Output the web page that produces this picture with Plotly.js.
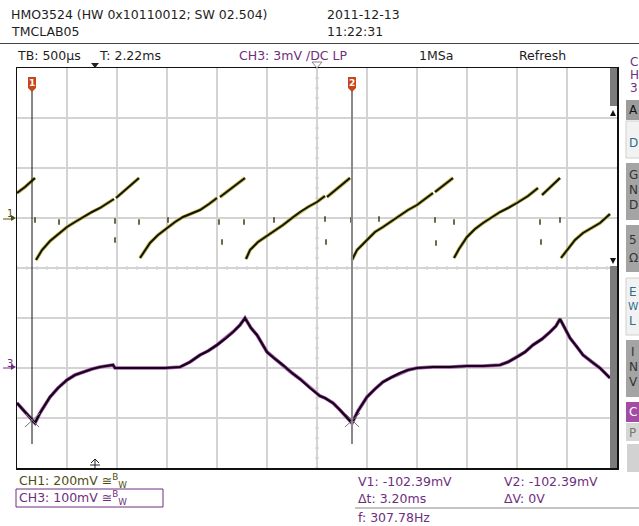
<!DOCTYPE html>
<html>
<head>
<meta charset="utf-8">
<script src="https://cdn.plot.ly/plotly-3.0.1.min.js"></script>
<style>
html,body{margin:0;padding:0;background:#fff;overflow:hidden;}
#chart{width:639px;height:526px;}
</style>
</head>
<body>
<div id="chart"></div>
<script>
// ---- Data (time in ms from left screen edge, 500 µs/div) ----
// CH1: 200 mV/div (sawtooth segments, null = retrace gap)
const ch1Time = [0.00,0.08,0.18,null,
  0.19,0.25,0.33,0.41,0.50,0.58,0.66,0.75,0.83,0.91,0.97,null,
  0.99,1.10,1.22,null,
  1.23,1.28,1.33,1.41,1.50,1.58,1.66,1.75,1.83,1.92,2.00,null,
  2.03,2.15,2.28,null,
  2.29,2.33,2.41,2.50,2.58,2.66,2.75,2.83,2.91,3.00,3.08,null,
  3.10,3.21,3.33,null,
  3.35,3.40,3.50,3.58,3.66,3.75,3.83,3.91,4.00,4.08,4.16,null,
  4.18,4.27,4.36,null,
  4.37,4.42,4.50,4.58,4.66,4.75,4.83,4.91,5.00,5.11,5.21,null,
  5.25,5.34,5.43,null,
  5.44,5.50,5.58,5.66,5.75,5.83,5.93];
const ch1mV = [100,124,160,null,
  -168,-128,-92,-64,-36,-16,4,24,40,60,76,null,
  80,120,160,null,
  -160,-128,-100,-68,-40,-16,4,20,32,56,80,null,
  84,120,160,null,
  -164,-128,-96,-72,-52,-28,0,24,44,64,88,null,
  84,120,160,null,
  -168,-128,-88,-56,-36,-12,12,32,52,76,100,null,
  104,132,160,null,
  -160,-124,-76,-44,-20,4,24,40,60,88,120,null,
  92,124,160,null,
  -160,-128,-88,-60,-40,-20,16];
// CH1 glitch dots
const glitchTime = [0.18,0.42,0.98,0.98,1.22,1.51,2.02,2.05,2.27,2.57,3.08,3.09,3.34,3.62,4.18,4.19,4.37,5.23,5.24,5.43];
const glitchmV   = [-8,-16,-12,-88,-16,-8,-16,-96,-16,-8,-4,-96,-8,-4,-8,-100,-16,-16,-96,-8];
// CH3: 100 mV/div
const ch3Time = [0.00,0.08,0.18,0.23,0.33,0.41,0.50,0.58,0.66,0.75,0.83,0.96,0.98,1.13,1.33,1.48,1.63,1.73,1.83,1.91,
  2.00,2.08,2.16,2.23,2.28,2.34,2.40,2.50,2.58,2.66,2.75,2.83,2.93,3.03,3.08,3.16,3.23,3.29,3.35,3.41,
  3.50,3.58,3.66,3.75,3.83,3.91,4.00,4.16,4.33,4.50,4.66,4.83,4.91,5.00,5.08,5.16,5.25,5.33,5.39,5.43,
  5.48,5.53,5.60,5.66,5.75,5.83,5.93];
const ch3mV = [-70,-88,-110,-90,-58,-40,-24,-14,-8,-2,2,6,0,0,0,0,2,12,26,34,
  46,58,72,86,100,80,66,32,18,6,-10,-22,-40,-56,-60,-70,-84,-98,-110,-86,
  -58,-42,-28,-18,-10,-4,0,2,2,4,4,6,12,22,32,46,58,72,84,98,
  80,60,42,26,12,0,-20];
// Cursors (ms)
const cursorTimes = [0.15, 3.35];
const cursorLabels = ["1", "2"];
// Header / status texts
const headerTexts = ["HMO3524 (HW 0x10110012; SW 02.504)", "TMCLAB05", "2011-12-13", "11:22:31"];
const statusTexts = ["TB: 500µs", "T: 2.22ms", "CH3: 3mV ∕DC LP", "1MSa", "Refresh"];
const chLabels = ["CH1: 200mV ≅<sup>B</sup><sub>W</sub>", "CH3: 100mV ≅<sup>B</sup><sub>W</sub>"];
const measTexts = ["V1: -102.39mV", "V2: -102.39mV", "Δt: 3.20ms", "ΔV: 0V", "f: 307.78Hz"];

// ---- helpers for pixel-placed decorations ----
const P = px => (px - 17) / 600;
const Q = py => (468 - py) / 400;
const FONT = "DejaVu Sans";
const PURPLE = "#6e2f7e", OLIVE = "#4e4e14", DARK = "#1e1e1e";

const traces = [
  {x: ch1Time, y: ch1mV, mode: "lines", line: {color: "#c4bd5a", width: 3.6}, connectgaps: false, hoverinfo: "skip", yaxis: "y"},
  {x: ch1Time, y: ch1mV, mode: "lines", line: {color: "#151505", width: 2}, connectgaps: false, hoverinfo: "skip", yaxis: "y"},
  {x: glitchTime, y: glitchmV, mode: "markers", marker: {symbol: "line-ns-open", size: 4, color: "#3a3a10", line: {color: "#3a3a10", width: 1.5}}, hoverinfo: "skip", yaxis: "y"},
  {x: ch3Time, y: ch3mV, mode: "lines", line: {color: "#a65ab0", width: 3.6}, hoverinfo: "skip", yaxis: "y2"},
  {x: ch3Time, y: ch3mV, mode: "lines", line: {color: "#150515", width: 2.2}, hoverinfo: "skip", yaxis: "y2"}
];

const shapes = [];
const annotations = [];
function txt(text, px, py, color, size, extra) {
  annotations.push(Object.assign({text: text, xref: "paper", yref: "paper", x: P(px), y: Q(py),
    xanchor: "left", yanchor: "middle", showarrow: false,
    font: {family: FONT, size: size || 12, color: color || DARK}}, extra || {}));
}
function rect(x0, y0, x1, y1, fill, line) {
  shapes.push({type: "rect", xref: "paper", yref: "paper", x0: P(x0), x1: P(x1), y0: Q(y1), y1: Q(y0),
    fillcolor: fill, line: line || {width: 0}, layer: "above"});
}
function seg(x0, y0, x1, y1, color, w) {
  shapes.push({type: "line", xref: "paper", yref: "paper", x0: P(x0), x1: P(x1), y0: Q(y0), y1: Q(y1),
    line: {color: color, width: w || 1}, layer: "above"});
}
function path(d, fill, line) {
  shapes.push({type: "path", xref: "paper", yref: "paper", path: d, fillcolor: fill || "rgba(0,0,0,0)",
    line: line || {width: 0}, layer: "above"});
}
function pth(points, close) {
  return points.map((p, i) => (i ? "L" : "M") + P(p[0]).toFixed(5) + "," + Q(p[1]).toFixed(5)).join(" ") + (close ? " Z" : "");
}

// minor ticks on the centre lines
for (let k = 0; k <= 60; k++) {
  const t = k * 0.1;
  shapes.push({type: "line", xref: "x", yref: "y", x0: t, x1: t, y0: -208, y1: -192, line: {color: "#c8c8c8", width: 1}, layer: "below"});
}
for (let k = 0; k <= 40; k++) {
  const v = -1000 + k * 40;
  shapes.push({type: "line", xref: "x", yref: "y", x0: 2.98, x1: 3.02, y0: v, y1: v, line: {color: "#c8c8c8", width: 1}, layer: "below"});
}

// header
seg(0, 43.5, 639, 43.5, "#444", 1);
txt(headerTexts[0], 9, 15, DARK, 12.5);
txt(headerTexts[1], 9, 32, DARK, 12.5);
txt(headerTexts[2], 325, 15, DARK, 12.5);
txt(headerTexts[3], 325, 32, DARK, 12.5);
txt(statusTexts[0], 15, 55, DARK, 12.5);
txt(statusTexts[1], 97, 55, DARK, 12.5);
txt(statusTexts[2], 237, 55, PURPLE, 12.5);
txt(statusTexts[3], 417, 55, DARK, 12.5);
txt(statusTexts[4], 517, 55, DARK, 12.5);
txt("C", 628, 62, PURPLE);
txt("H", 628, 75, PURPLE);
txt("3", 628, 88, PURPLE);

// top triangle markers
path(pth([[91,63],[99,63],[95,68]], true), "#222");
path(pth([[312,62],[322,62],[317,68]], true), "#fff", {color: "#888", width: 1});

// scrollbar at right of screen
rect(610, 68, 617, 106, "#7c7c7c");
rect(610, 266, 617, 468, "#7c7c7c");
path(pth([[610,116],[616,116],[613,110]], true), "#111");
path(pth([[610,258],[616,258],[613,264]], true), "#111");

// right menu buttons (cut off by the screen edge)
rect(626, 100, 645, 120, "#9c9c9c");
txt("A", 627, 110, "#111");
rect(626, 121, 645, 158, "#f2f2f2", {color: "#d0d0d0", width: 1});
txt("D", 627, 143, "#2e6d8c");
rect(626, 163, 645, 220, "#a4a4a4");
txt("G", 627, 175, "#333"); txt("N", 627, 190, "#333"); txt("D", 627, 205, "#333");
rect(626, 225, 645, 272, "#a4a4a4");
txt("5", 627, 240, "#333"); txt("Ω", 627, 258, "#333");
rect(626, 278, 645, 335, "#f2f2f2", {color: "#d0d0d0", width: 1});
txt("E", 627, 292, "#2e6d8c"); txt("W", 626, 306, "#2e6d8c", 10.5); txt("L", 627, 321, "#2e6d8c");
rect(626, 340, 645, 397, "#a4a4a4");
txt("I", 629, 352, "#333"); txt("N", 627, 367, "#333"); txt("V", 627, 382, "#333");
rect(626, 402, 645, 422, "#a24ca6");
txt("C", 627, 412, "#fff");
rect(626, 423, 645, 441, "#d6d6d6");
txt("P", 627, 433, "#777");
rect(627, 444, 645, 472, "#d2d2d2");

// channel ground markers
txt("1", 5, 213, OLIVE, 10);
path(pth([[11,215],[16,218],[11,221]], true), OLIVE);
seg(3, 219, 12, 219, OLIVE, 1);
txt("3", 5, 363, PURPLE, 10);
path(pth([[11,364],[16,367],[11,370]], true), PURPLE);
seg(3, 368, 12, 368, PURPLE, 1);

// trigger level marker at bottom
path(pth([[91,463],[95,459],[99,463]]), null, {color: "#222", width: 1});
seg(90, 465, 100, 465, "#222", 1);
seg(95, 459, 95, 468, "#222", 1);

// cursors
const cursorColors = ["#111", "#8a8a8a"];
cursorTimes.forEach((t, i) => {
  shapes.push({type: "line", xref: "x", yref: "paper", x0: t, x1: t, y0: Q(444), y1: Q(88),
    line: {color: cursorColors[i], width: i ? 2 : 1}, layer: "above"});
  const cx = 17 + t * 100;
  path(pth([[cx-4,77],[cx+4,77],[cx+4,88],[cx,92],[cx-4,88]], true), "#c9461b");
  annotations.push({text: "<b>" + cursorLabels[i] + "</b>", xref: "x", yref: "paper", x: t, y: Q(83),
    xanchor: "center", yanchor: "middle", showarrow: false, font: {family: FONT, size: 9, color: "#fff"}});
  seg(cx-7, 427, cx+8, 413, "#777", 1);
  seg(cx-6, 414, cx+7, 427, "#777", 1);
});

// bottom status
txt(chLabels[0], 17, 481, OLIVE, 12.5);
rect(16, 489, 163, 507, "rgba(0,0,0,0)", {color: PURPLE, width: 1});
txt(chLabels[1], 17, 498, PURPLE, 12.5);
txt(measTexts[0], 356, 481, PURPLE, 12.5);
txt(measTexts[1], 502, 481, PURPLE, 12.5);
txt(measTexts[2], 356, 498, PURPLE, 12.5);
txt(measTexts[3], 502, 498, PURPLE, 12.5);
seg(355, 508, 639, 508, "#888", 1);
txt(measTexts[4], 356, 517, PURPLE, 12.5);

const layout = {
  width: 639, height: 526,
  margin: {l: 17, r: 22, t: 68, b: 58},
  paper_bgcolor: "#ffffff", plot_bgcolor: "#ffffff",
  showlegend: false,
  xaxis: {range: [0, 6], dtick: 0.5, tick0: 0, showgrid: true, gridcolor: "#d3d3d3", gridwidth: 1.5,
    zeroline: false, showticklabels: false, ticks: "", showline: true, mirror: true, linecolor: "#111", linewidth: 1.5, fixedrange: true},
  yaxis: {range: [-1000, 600], dtick: 200, tick0: -1000, showgrid: true, gridcolor: "#d3d3d3", gridwidth: 1.5,
    zeroline: false, showticklabels: false, ticks: "", showline: true, mirror: true, linecolor: "#111", linewidth: 1.5, fixedrange: true},
  yaxis2: {range: [-200, 600], overlaying: "y", visible: false, fixedrange: true},
  shapes: shapes,
  annotations: annotations,
  font: {family: FONT}
};
Plotly.newPlot("chart", traces, layout, {staticPlot: true, displayModeBar: false});
</script>
</body>
</html>
